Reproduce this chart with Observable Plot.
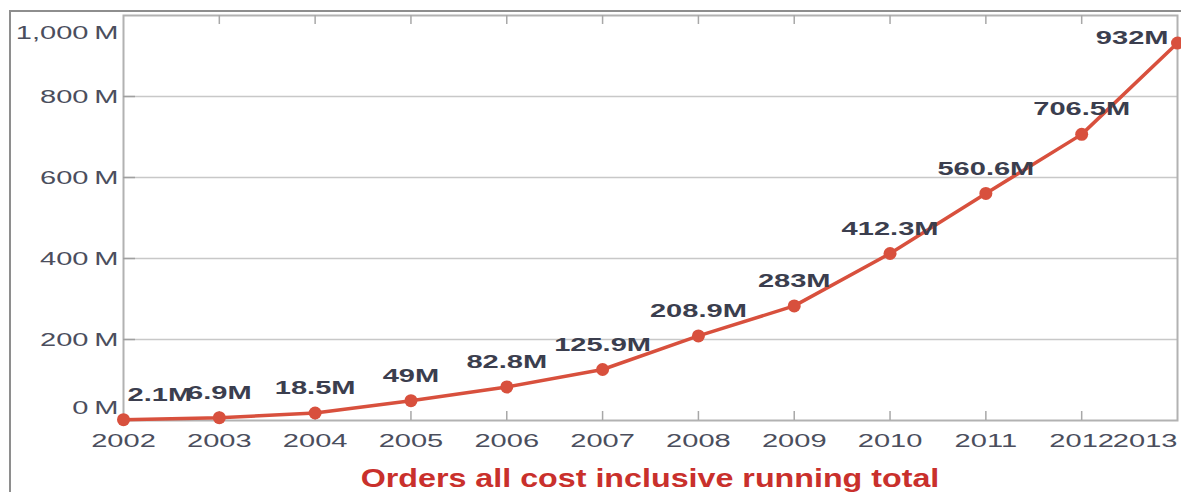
<!DOCTYPE html>
<html><head><meta charset="utf-8">
<script src="https://cdn.jsdelivr.net/npm/d3@7"></script>
<script src="https://cdn.jsdelivr.net/npm/@observablehq/plot@0.6"></script>
<style>
html,body{margin:0;padding:0;background:#fff;width:1181px;height:492px;overflow:hidden;position:relative;}
#outer{position:absolute;left:9px;top:10px;width:1200px;height:520px;border-left:2px solid #8e8e8e;border-top:2px solid #8e8e8e;}
#chart{position:absolute;left:0;top:0;}
#title{position:absolute;left:123px;width:1054px;top:465px;text-align:center;font:bold 26px "Liberation Sans",Arial,sans-serif;line-height:26px;color:#c9302c;transform:scaleX(1.24);white-space:nowrap;}
</style></head>
<body>
<div id="outer"></div>
<div id="chart"></div>
<div id="title">Orders all cost inclusive running total</div>
<script>
const years = [2002,2003,2004,2005,2006,2007,2008,2009,2010,2011,2012,2013];
const values = [2.1,6.9,18.5,49,82.8,125.9,208.9,283,412.3,560.6,706.5,932];
const valueLabels = ["2.1M","6.9M","18.5M","49M","82.8M","125.9M","208.9M","283M","412.3M","560.6M","706.5M","932M"];
const yTicks = [0,200,400,600,800,1000];

const data = years.map((y,i)=>({year:y, value:values[i], label:valueLabels[i]}));
const fmtY = d => d3.format(",")(d) + "\u2009M";
const inner = yTicks.slice(1,-1);
const lineColor = "#d8503d";
const axisColor = "#4b4e5d";
const labelColor = "#3b3e4e";
const W = 1181, H = 460, mL = 123, mR = 4, mT = 15, mB = 40;
const plotW = W - mL - mR, plotH = H - mT - mB;
const tick = 9;

const axisTextOpts = {tickSize:0, tickPadding:5, label:null, tickFormat:fmtY, fill:axisColor, fontSize:19};

const plot = Plot.plot({
  width:W, height:H,
  marginLeft:mL, marginRight:mR, marginTop:mT, marginBottom:mB,
  x:{domain:[2002,2013]},
  y:{domain:[0,1000]},
  style:{fontFamily:"'Liberation Sans', Arial, sans-serif", fontSize:"19px", background:"transparent", color:axisColor},
  marks:[
    Plot.gridY(inner, {stroke:"#c8c8c8", strokeOpacity:1, strokeWidth:1.5}),
    Plot.frame({stroke:"#b2b2b2", strokeWidth:2}),
    Plot.ruleY(inner, {insetRight: plotW - 12, stroke:"#a0a0a0", strokeWidth:1.5}),
    Plot.ruleX(years.slice(1,-1), {insetTop: plotH - tick, stroke:"#a8a8a8", strokeWidth:1.5}),
    Plot.ruleX(years.slice(1,-1), {insetBottom: plotH - tick, stroke:"#a8a8a8", strokeWidth:1.5}),
    Plot.axisY(inner, {anchor:"left", ...axisTextOpts}),
    Plot.axisY([yTicks[0]], {anchor:"left", ...axisTextOpts, dy:-13}),
    Plot.axisY([yTicks[yTicks.length-1]], {anchor:"left", ...axisTextOpts, dy:17}),
    Plot.axisX(years.slice(0,-1), {anchor:"bottom", tickSize:0, tickPadding:13, label:null, tickFormat:d=>String(d), fill:axisColor, fontSize:19}),
    Plot.axisX(years.slice(-1), {anchor:"bottom", tickSize:0, tickPadding:13, label:null, tickFormat:d=>String(d), fill:axisColor, fontSize:19, textAnchor:"end"}),
    Plot.line(data, {x:"year", y:"value", stroke:lineColor, strokeWidth:3.5}),
    Plot.dot(data, {x:"year", y:"value", r:6.5, fill:lineColor, stroke:null}),
    Plot.text(data.slice(0,1), {x:"year", y:"value", text:"label", dy:-25, dx:4, textAnchor:"start", fontWeight:"bold", fill:labelColor, fontSize:19}),
    Plot.text(data.slice(1,-1), {x:"year", y:"value", text:"label", dy:-25, fontWeight:"bold", fill:labelColor, fontSize:19}),
    Plot.text(data.slice(-1), {x:"year", y:"value", text:"label", dy:-5, dx:-9, textAnchor:"end", fontWeight:"bold", fill:labelColor, fontSize:19})
  ]
});

const s = 1.53;
plot.querySelectorAll("text").forEach(t => {
  const tr = t.getAttribute("transform");
  if (tr) t.setAttribute("transform", tr + ` scale(${s},1)`);
  else {
    const x = +t.getAttribute("x") || 0, y = +t.getAttribute("y") || 0;
    t.removeAttribute("x"); t.removeAttribute("y");
    t.setAttribute("transform", `translate(${x},${y}) scale(${s},1)`);
  }
});
document.getElementById("chart").appendChild(plot);
</script>
</body></html>
